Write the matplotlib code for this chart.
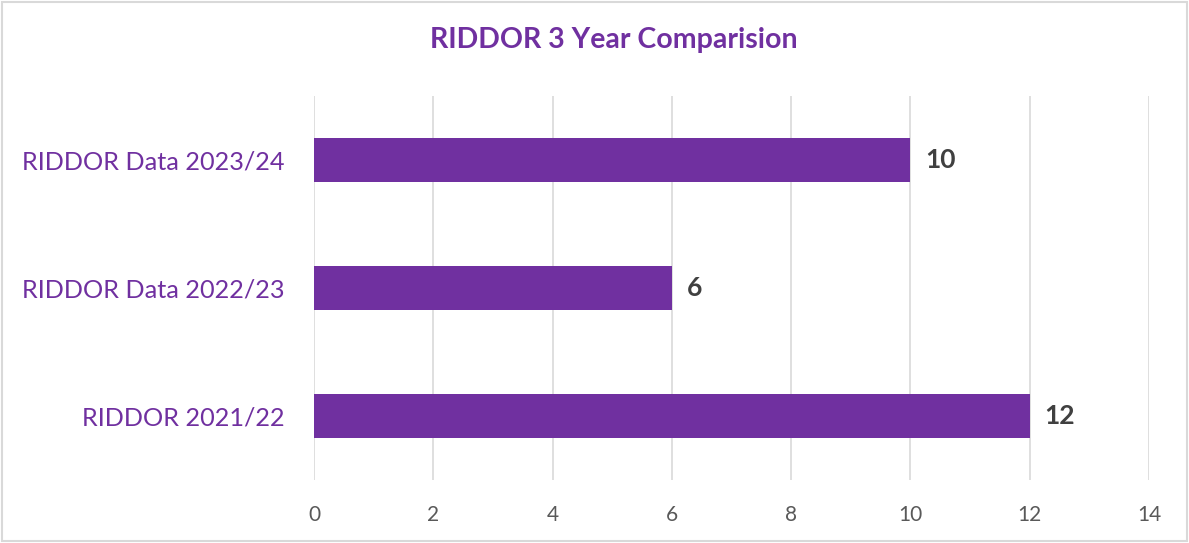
import matplotlib
matplotlib.use("Agg")
import matplotlib.pyplot as plt
from matplotlib.patches import Rectangle

categories = ["RIDDOR 2021/22", "RIDDOR Data 2022/23", "RIDDOR Data 2023/24"]
values = [12, 6, 10]
xticks = [0, 2, 4, 6, 8, 10, 12, 14]

purple = "#7030A0"
fig = plt.figure(figsize=(11.89, 5.43), dpi=100)
ax = fig.add_axes([314/1189, 1-480/543, (1149-314)/1189, (480-96)/543])

ax.barh(range(len(categories)), values, height=0.35, color=purple, zorder=3)
ax.set_xlim(0, 14)
ax.set_ylim(-0.5, 2.5)
ax.set_xticks(xticks)
ax.set_xticklabels([str(t) for t in xticks], fontsize=15, color="#595959", family="Lato")
ax.set_yticks(range(len(categories)))
ax.set_yticklabels(categories, fontsize=18.2, color=purple, family="Lato")
ax.tick_params(axis="x", length=0, pad=18)
ax.tick_params(axis="y", length=0, pad=21)
ax.grid(axis="x", color="#D9D9D9", linewidth=1.2, zorder=0)
for s in ax.spines.values():
    s.set_visible(False)

for i, v in enumerate(values):
    ax.text(v + 0.25, i, str(v), va="center", ha="left", fontsize=19, fontweight="bold",
            color="#404040", family="Lato")

fig.text(614/1189, 1-40/543, "RIDDOR 3 Year Comparision", ha="center", va="center",
         fontsize=20.5, fontweight="bold", color=purple, family="Lato")

fig.patches.append(Rectangle((0.002, 0.003), 0.996, 0.994, transform=fig.transFigure,
                             fill=False, edgecolor="#D9D9D9", linewidth=1.5))
fig.savefig("out.png", dpi=100)
